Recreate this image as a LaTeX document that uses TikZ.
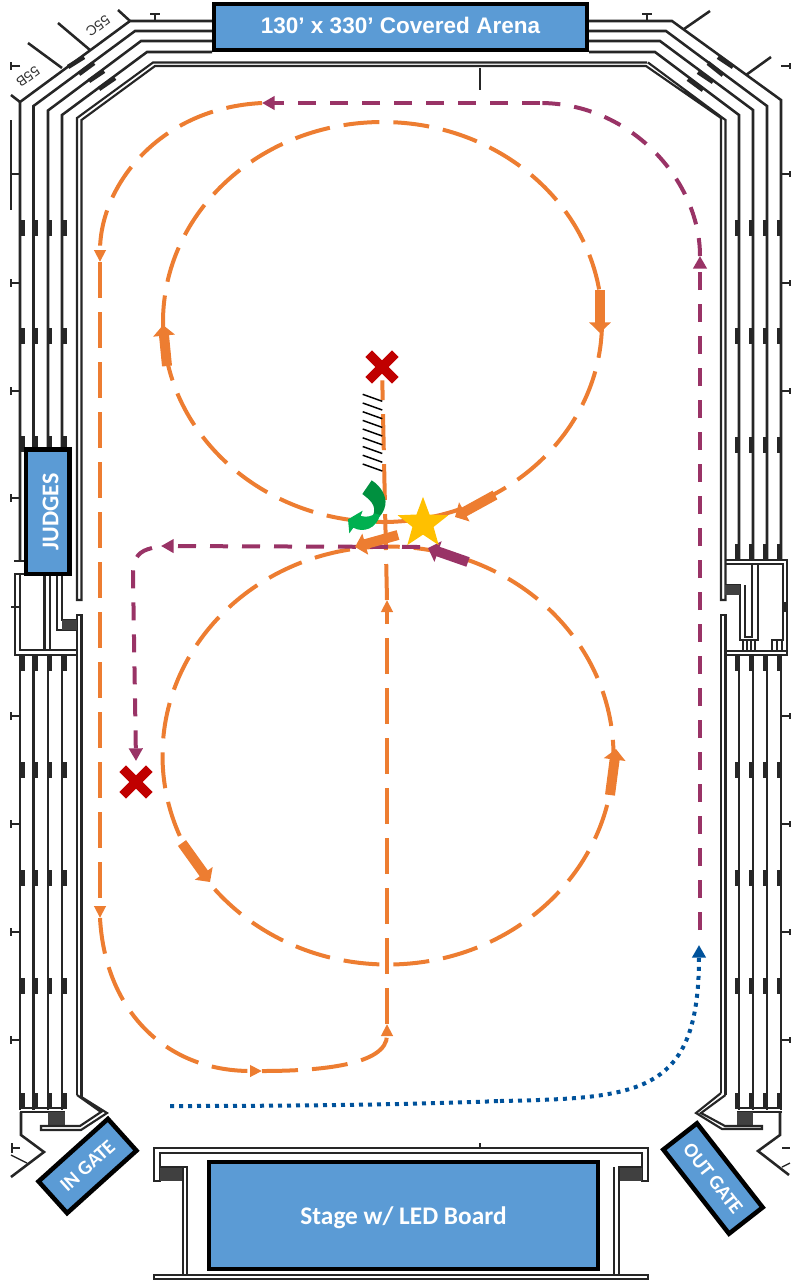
\documentclass[tikz,border=0pt]{standalone}
\usepackage{fontspec}
\setmainfont{Liberation Sans}
\newfontfamily\boxfont{Carlito}
\usetikzlibrary{arrows.meta,shapes.geometric,shapes.misc}
\definecolor{routeorange}{HTML}{ED7D31}
\definecolor{routepurple}{HTML}{993366}
\definecolor{routeblue}{HTML}{00529B}
\definecolor{boxblue}{HTML}{5B9BD5}
\definecolor{markred}{HTML}{C00000}
\definecolor{markgold}{HTML}{FFC000}
\definecolor{turnlight}{HTML}{00B050}
\definecolor{turndark}{HTML}{00903F}
\tikzset{
  wall/.style={draw=black!85, line width=1.9pt, line join=miter},
  innerwall/.style={draw=black!85, line width=1.6pt},
  stubwall/.style={draw=black!85, line width=3.4pt},
  thinwall/.style={draw=black!85, line width=1pt},
  hatchblock/.style={fill=black!75},
  signbox/.style={draw=black, line width=3.4pt, fill=boxblue, text=white, inner sep=0pt, align=center},
  gatebox/.style={signbox, minimum height=32pt, font=\boxfont\bfseries\fontsize{15}{16}\selectfont},
  pathorange/.style={draw=routeorange, line width=3pt, dash pattern=on 27pt off 10.5pt},
  pathpurple/.style={draw=routepurple, line width=3pt, dash pattern=on 13.5pt off 10.5pt},
  pathblue/.style={draw=routeblue, line width=3pt, dash pattern=on 3pt off 3.75pt},
  tiporange/.style={-{Triangle[length=9pt,width=8.5pt]}},
  tippurple/.style={-{Triangle[length=9.5pt,width=10pt]}},
  thickorange/.style={draw=routeorange, line width=7.5pt, -{Triangle[length=8pt,width=16pt]}},
  thickpurple/.style={draw=routepurple, line width=7.5pt, -{Triangle[length=8pt,width=16pt]}},
  crossmark/.style={cross out, draw=markred, line width=7pt, minimum size=20pt, inner sep=0pt, outer sep=0pt},
  sectionlab/.style={font=\fontsize{10.5}{11}\selectfont, text=black!80, inner sep=0pt, rotate=216},
}
\begin{document}
\begin{tikzpicture}[x=0.75pt,y=-0.75pt]
\useasboundingbox (0,0) rectangle (793,1283);
% walls, top corners
\draw[wall] (212,21) -- (130,21) -- (20,102) -- (20,560);
\draw[wall] (212,31) -- (135,31) -- (33.5,106) -- (33.5,449);
\draw[wall] (212,41) -- (141,41) -- (48,110.5) -- (48,449);
\draw[wall] (212,52) -- (147,52) -- (62,115) -- (62,449);
\draw[innerwall] (647,62.5) -- (153,62.5) -- (77,118) -- (77,600) -- (81.5,600) -- (81.5,120) -- (155,66) -- (646,66) -- (721,118) -- (721,600) -- (725.5,600) -- (725.5,120) -- (648,62.5);
\draw[wall] (589,21) -- (672,21) -- (781,100) -- (781,560);
\draw[wall] (589,31) -- (666,31) -- (767,106) -- (767,560);
\draw[wall] (589,41) -- (660,41) -- (753,110) -- (753,560);
\draw[wall] (589,52) -- (655,52) -- (739,115) -- (739,560);
% walls, lower part
\foreach \wallx in {20,33.5,48,62} {\draw[wall] (\wallx,655) -- (\wallx,1110);}
\foreach \wallx in {739,753,767,781} {\draw[wall] (\wallx,655) -- (\wallx,1110);}
\draw[innerwall] (77,1095) -- (77,615) -- (81.5,615) -- (81.5,1097);
\draw[innerwall] (721,1093) -- (721,615) -- (725.5,615) -- (725.5,1095);
% stubs along the walls
\foreach \stuby in {220,328,436,655,762,870,978,1093} {
  \foreach \stubx in {22.5,36,50,64.5} {\draw[stubwall] (\stubx,\stuby) -- ++(0,16);}
}
\foreach \stuby in {220,328,437,544,655,762,870,978,1093} {
  \foreach \stubx in {737,751,765,779} {\draw[stubwall] (\stubx,\stuby) -- ++(0,16);}
}
\draw[stubwall] (68,67) -- (84,57);
\draw[stubwall] (79,74) -- (94,63);
\draw[stubwall] (89,81) -- (104,71);
\draw[stubwall] (99,89) -- (115,78);
\draw[stubwall] (733,67) -- (718,57);
\draw[stubwall] (723,75) -- (708,63);
\draw[stubwall] (713,82) -- (698,72);
\draw[stubwall] (703,90) -- (688,79);
% ticks outside the walls
\foreach \ticky in {66,174,283,391,498,716,824,932,1040} {
  \draw[wall] (20,\ticky) -- (11,\ticky);
  \draw[thinwall] (11,\ticky-4) -- (11,\ticky+4);
}
\foreach \ticky in {66,174,283,391,716,824,932,1040} {
  \draw[wall] (781,\ticky) -- (790,\ticky);
  \draw[thinwall] (790,\ticky-3) -- (790,\ticky+3);
}
\draw[wall] (155,21) -- (155,14);
\draw[wall] (150,14) -- (160,14);
\draw[wall] (647,21) -- (647,14);
\draw[wall] (642,14) -- (652,14);
\draw[wall] (11,607) -- (20,607);
\draw[wall] (785,602) -- (785,612);
\draw[wall] (480,68) -- (480,90);
% section lines and labels
\draw[thinwall] (11,120) -- (11,210);
\draw[wall] (118,10) -- (130,21);
\draw[wall] (58,23) -- (90,50);
\draw[wall] (28,43) -- (62,68);
\draw[wall] (11,95) -- (20,102);
\draw[wall] (684,29) -- (710,11);
\draw[wall] (746,75) -- (771,57);
\node[sectionlab] (labelc) at (98,26) {55C};
\node[sectionlab] (labelb) at (28,77) {55B};
% left alcove behind the judges
\draw[innerwall] (24,574) -- (15,574) -- (15,655) -- (77,655);
\draw[innerwall] (20,574) -- (20,650) -- (77,650);
\draw[innerwall] (14,561) -- (24,561);
\draw[innerwall] (44.5,574) -- (44.5,650);
\draw[innerwall] (50,574) -- (50,650);
\draw[innerwall] (57,574) -- (57,630) -- (77,630);
\draw[innerwall] (62,574) -- (62,620) -- (77,620);
\fill[hatchblock] (62,620) rectangle (77,630);
% right alcove
\draw[innerwall] (725,560) -- (787,560) -- (787,655) -- (725,655);
\draw[innerwall] (725,564) -- (783,564) -- (783,640) -- (772,640) -- (772,652);
\draw[innerwall] (725,651) -- (786,651);
\draw[innerwall] (777,640) -- (777,651);
\draw[innerwall] (782,640) -- (782,651);
\draw[innerwall] (725,585) -- (740,585) -- (740,640) -- (758,640) -- (758,564);
\draw[innerwall] (745,585) -- (745,637) -- (752,637) -- (752,564);
\foreach \wallx in {743,747,751,755} {\draw[thinwall] (\wallx,640) -- (\wallx,651);}
\fill[hatchblock] (725,585) rectangle (740,595);
% corners at the gates
\draw[innerwall] (20,1108) -- (65,1108);
\draw[innerwall] (20,1112) -- (65,1112);
\fill[hatchblock] (48,1112) rectangle (65,1125);
\draw[innerwall] (77,1095) -- (101,1112) -- (80,1126) -- (41,1126) -- (41,1130) -- (81,1130) -- (107,1113) -- (81.5,1097);
\draw[wall] (21,1112) -- (21,1135) -- (44,1152) -- (11,1177);
\draw[wall] (12,1148) -- (20,1148);
\draw[thinwall] (12,1143) -- (12,1153);
\draw[thinwall] (11,1155) -- (27,1163);
\draw[innerwall] (737,1108) -- (782,1108);
\draw[innerwall] (737,1112) -- (782,1112);
\fill[hatchblock] (737,1112) rectangle (753,1125);
\draw[innerwall] (721,1093) -- (696,1113) -- (722,1129) -- (762,1129) -- (762,1126) -- (725,1126) -- (701,1113) -- (725.5,1095);
\draw[wall] (780,1112) -- (780,1135) -- (758,1151) -- (789,1175);
\draw[thinwall] (782,1148) -- (790,1148);
\draw[thinwall] (782,1167) -- (790,1163);
% stage
\draw[innerwall] (648,1148) -- (154,1148) -- (154,1181) -- (160,1181) -- (160,1153) -- (642,1153) -- (642,1181) -- (648,1181) -- cycle;
\draw[innerwall] (154,1279) rectangle (648,1275);
\fill[hatchblock] (160,1167) rectangle (183,1181);
\fill[hatchblock] (619,1167) rectangle (642,1181);
\draw[innerwall] (183,1275) -- (183,1167);
\draw[innerwall] (187,1275) -- (187,1167) -- (160,1167);
\draw[innerwall] (614,1275) -- (614,1167);
\draw[innerwall] (619,1275) -- (619,1167) -- (642,1167);
\draw[thinwall] (480,1143) -- (480,1148);
% signs
\node[signbox, minimum width=279.75pt, minimum height=34.5pt, text depth=3pt, font=\bfseries\fontsize{16.9}{18}\selectfont] (arenabox) at (400.5,27) {130’ x 330’ Covered Arena};
\node[signbox, minimum width=93.4pt, minimum height=32.6pt, rotate=90, text height=16pt, font=\boxfont\bfseries\fontsize{18}{19}\selectfont] (judgesbox) at (47.8,511.8) {JUDGES};
\node[signbox, minimum width=291.75pt, minimum height=80.25pt, text depth=0pt, font=\boxfont\bfseries\fontsize{19}{20}\selectfont] (stagebox) at (403.5,1215.5) {Stage w/ LED Board};
\node[gatebox, minimum width=70pt, rotate=42] (ingate) at (87.5,1166) {IN GATE};
\node[gatebox, minimum width=80pt, rotate=-52] (outgate) at (713,1178.5) {OUT GATE};
% figure eight
\draw[pathorange] (382.5,322) ellipse [x radius=219.5, y radius=200];
\draw[pathorange] (388,755.5) ellipse [x radius=225.5, y radius=209];
% orange route
\coordinate (ostart) at (262,103);
\coordinate (oleft) at (100,262);
\coordinate (olow) at (100,918);
\coordinate (obottom) at (262,1071);
\coordinate (ocenter) at (387,1024);
\coordinate (omid) at (387,600);
\draw[pathorange, tiporange] (ostart) .. controls (160,108) and (100,185) .. (oleft);
\draw[pathorange, tiporange] (oleft) -- (olow);
\draw[pathorange, tiporange] (olow) .. controls (105,1010) and (165,1071) .. (obottom);
\draw[pathorange, tiporange] (obottom) .. controls (320,1071) and (387,1065) .. (ocenter);
\draw[pathorange, tiporange] (ocenter) -- (omid);
% marks of the route
\node[crossmark] (markone) at (382,367) {};
\node[crossmark] (marktwo) at (136,782) {};
\draw[pathorange] (omid) -- (markone);
\foreach \hatchy in {394.3,403,411.7,420.4,429,437.8,446.5,455.2,464} {
  \draw[black, line width=1.1pt] (362.7,\hatchy) -- (382.3,\hatchy+7);
}
% purple routes
\coordinate (pstart) at (700,930);
\coordinate (ptop) at (700,256);
\coordinate (pbend) at (540,103);
\coordinate (pcross) at (420,547);
\coordinate (pcorner) at (161,546);
\coordinate (pdown) at (136,761);
\draw[pathpurple, tippurple] (pstart) -- (ptop);
\draw[pathpurple] (ptop) .. controls (700,180) and (630,103) .. (pbend);
\draw[pathpurple, tippurple] (pbend) -- (ostart);
\draw[pathpurple, tippurple] (pcross) -- (pcorner);
\draw[pathpurple, tippurple] (152,548) .. controls (140,551) and (133,556) .. (133,575) -- (pdown);
% blue route
\coordinate (bstart) at (170,1106);
\coordinate (bmid) at (500,1101);
\coordinate (bend) at (699,945);
\draw[pathblue] (bstart) .. controls (280,1106) and (400,1105) .. (bmid);
\draw[pathblue, tippurple, draw=routeblue] (bmid) .. controls (640,1098) and (699,1095) .. (bend);
% thick arrows
\draw[thickorange] (600,290) -- (600,333);
\draw[thickorange] (167,366) -- (163,325);
\draw[thickorange] (495,495) -- (455,517);
\draw[thickorange] (398,535) -- (355,547);
\draw[thickorange] (610,795) -- (616,749);
\draw[thickorange] (182,843) -- (210,882);
\draw[thickpurple] (468,562) -- (428,548);
% start mark and turn
\node[star, star points=5, star point ratio=2.4, fill=markgold, minimum size=40pt, inner sep=0pt] (startmark) at (423,523.5) {};
\begin{scope}[shift={(320,340)},x=0.25pt,y=-0.25pt]
\fill[turndark] (155,421) .. controls (185,440) and (200,470) .. (196,495) .. controls (193,515) and (180,530) .. (170,538) -- (160,525) .. controls (170,495) and (150,480) .. (127,462) -- cycle;
\fill[turnlight] (128,512) -- (84,538) -- (88,580) -- (100,563) .. controls (130,580) and (170,565) .. (180,525) -- (165,520) .. controls (155,530) and (140,532) .. (122,528) -- cycle;
\end{scope}
\end{tikzpicture}
\end{document}
